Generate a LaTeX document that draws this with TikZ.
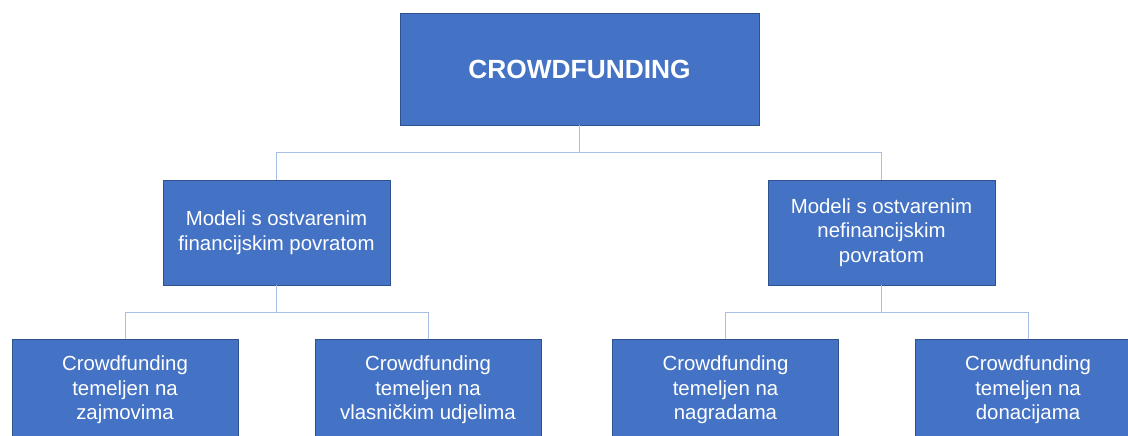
\documentclass[tikz,border=0pt]{standalone}
\usepackage{fontspec}
\setmainfont{Liberation Sans}
\definecolor{boxfill}{HTML}{4472C4}
\definecolor{boxline}{HTML}{2F528F}
\definecolor{conn}{HTML}{A9BEE4}
\begin{document}
\begin{tikzpicture}[x=1pt,y=-1pt,
  box/.style={draw=boxline, line width=0.9pt, fill=boxfill, text=white, inner sep=0pt,
    align=center, font=\fontsize{20.4}{24.5}\selectfont},
  topbox/.style={box, minimum width=359pt, minimum height=112pt, font=\fontsize{26.3}{30}\selectfont\bfseries},
  midbox/.style={box, minimum width=227pt, minimum height=105pt},
  botbox/.style={box, minimum width=226pt, minimum height=102pt},
  link/.style={draw=conn, line width=1pt}]
\useasboundingbox (0,0) rectangle (1128,436);
\clip (0,0) rectangle (1128,436);
\node[topbox] (top) at (579.5,69) {CROWDFUNDING};
\node[midbox] (ml) at (276.5,232.5) {Modeli s ostvarenim\\financijskim povratom};
\node[midbox] (mr) at (881.5,232.5) {Modeli s ostvarenim\\nefinancijskim\\povratom};
\node[botbox] (b1) at (125,390) {Crowdfunding\\temeljen na\\zajmovima};
\node[botbox] (b2) at (428,390) {Crowdfunding\\temeljen na\\vlasničkim udjelima};
\node[botbox] (b3) at (725.5,390) {Crowdfunding\\temeljen na\\nagradama};
\node[botbox] (b4) at (1028,390) {Crowdfunding\\temeljen na\\donacijama};
\coordinate (j0) at (579.5,152);
\coordinate (j1) at (276.5,312);
\coordinate (j2) at (881.5,312);
\draw[link] (top.south) -- (j0);
\draw[link] (j0) -| (ml.north);
\draw[link] (j0) -| (mr.north);
\draw[link] (ml.south) -- (j1);
\draw[link] (j1) -| (b1.north);
\draw[link] (j1) -| (b2.north);
\draw[link] (mr.south) -- (j2);
\draw[link] (j2) -| (b3.north);
\draw[link] (j2) -| (b4.north);
\end{tikzpicture}
\end{document}
